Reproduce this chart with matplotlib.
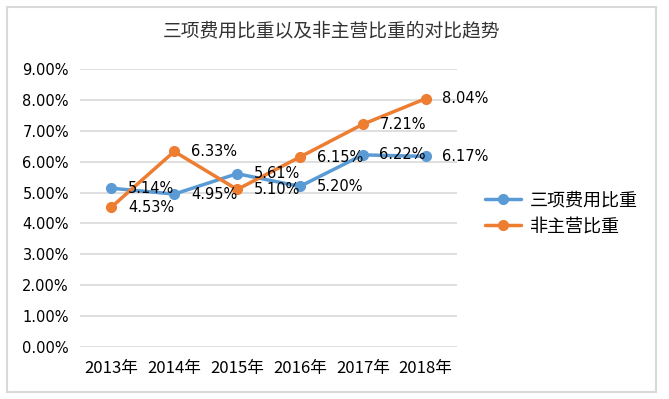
import matplotlib.pyplot as plt
from matplotlib.patches import Rectangle
from matplotlib.ticker import FuncFormatter

plt.rcParams['font.family'] = ['Noto Sans CJK SC', 'DejaVu Sans']

years = ['2013年', '2014年', '2015年', '2016年', '2017年', '2018年']
fee_ratio = [5.14, 4.95, 5.61, 5.20, 6.22, 6.17]
non_main = [4.53, 6.33, 5.10, 6.15, 7.21, 8.04]
yticks = [0, 1, 2, 3, 4, 5, 6, 7, 8, 9]

blue = '#5B9BD5'
orange = '#ED7D31'

fig = plt.figure(figsize=(6.69, 3.99), dpi=100)
# outer chart border
fig.patches.append(Rectangle((7 / 669, 7 / 399), 649 / 669, 385 / 399,
                             transform=fig.transFigure, fill=False,
                             edgecolor='#D9D9D9', linewidth=1.5))

ax = fig.add_axes([80 / 669, 1 - 347 / 399, 377 / 669, 278 / 399])
x = range(len(years))
ax.plot(x, fee_ratio, color=blue, lw=2.5, marker='o', ms=7, label='三项费用比重',
        solid_capstyle='round', zorder=3)
ax.plot(x, non_main, color=orange, lw=2.5, marker='o', ms=7, label='非主营比重',
        solid_capstyle='round', zorder=3)

for s in (fee_ratio, non_main):
    for i, v in enumerate(s):
        ax.annotate(f'{v:.2f}%', (i, v), xytext=(12, 0), textcoords='offset points',
                    ha='left', va='center', fontsize=10.5, family='DejaVu Sans',
                    zorder=4)

ax.set_xlim(-0.5, 5.5)
ax.set_ylim(0, 9)
ax.set_yticks(yticks)
ax.yaxis.set_major_formatter(FuncFormatter(lambda v, p: f'{v:.2f}%'))
ax.set_xticks(list(x))
ax.set_xticklabels(years)
ax.grid(axis='y', color='#D9D9D9', lw=1.2)
ax.set_axisbelow(True)
for sp in ax.spines.values():
    sp.set_visible(False)
ax.tick_params(axis='y', length=0, labelsize=10.5, pad=8)
ax.tick_params(axis='x', length=0, labelsize=12, pad=9)
for t in ax.get_yticklabels():
    t.set_family('DejaVu Sans')

fig.text(332 / 669, 1 - 31 / 399, '三项费用比重以及非主营比重的对比趋势',
         ha='center', va='center', fontsize=13.5, color='#333333')

ax.legend(loc='center left', bbox_to_anchor=(1.03, 0.48), frameon=False,
          fontsize=13, handlelength=2.0, handletextpad=0.5, labelspacing=0.45)

fig.savefig('out.png', dpi=100)
